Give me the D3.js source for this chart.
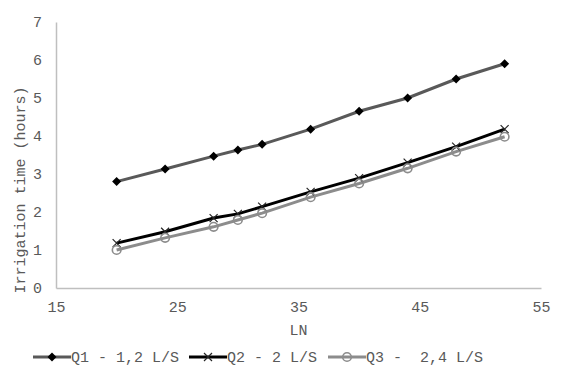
<!DOCTYPE html>
<html>
<head>
<meta charset="utf-8">
<script src="https://cdn.jsdelivr.net/npm/d3@7"></script>
<style>
  body { margin: 0; background: #fff; }
  text { font-family: "Liberation Mono", "Courier New", monospace; fill: #595959; }
</style>
</head>
<body>
<div class="chart"></div>
<script>
var svgWidth = 567;
var svgHeight = 378;

var margin = { top: 22, right: 26, bottom: 90, left: 56 };
var width = svgWidth - margin.left - margin.right;
var height = svgHeight - margin.top - margin.bottom;

// data
var lnValues = [20, 24, 28, 30, 32, 36, 40, 44, 48, 52];
var q1Hours = [2.8, 3.13, 3.47, 3.63, 3.78, 4.18, 4.65, 5.0, 5.5, 5.9];
var q2Hours = [1.18, 1.48, 1.84, 1.95, 2.14, 2.53, 2.89, 3.3, 3.72, 4.18];
var q3Hours = [1.0, 1.32, 1.61, 1.79, 1.97, 2.39, 2.75, 3.15, 3.59, 3.98];
var seriesNames = ["Q1 - 1,2 L/S", "Q2 - 2 L/S", "Q3 -  2,4 L/S"];
var xTicks = [15, 25, 35, 45, 55];
var yTicks = [0, 1, 2, 3, 4, 5, 6, 7];

var series = [
  { name: seriesNames[0], values: q1Hours, color: "#595959", marker: "diamond" },
  { name: seriesNames[1], values: q2Hours, color: "#000000", marker: "cross" },
  { name: seriesNames[2], values: q3Hours, color: "#8c8c8c", marker: "circle" }
];

var svg = d3.select(".chart")
  .append("svg")
  .attr("width", svgWidth)
  .attr("height", svgHeight);

var chartGroup = svg.append("g")
  .attr("transform", `translate(${margin.left}, ${margin.top})`);

var xScale = d3.scaleLinear().domain([15, 55]).range([0, width]);
var yScale = d3.scaleLinear().domain([0, 7]).range([height, 0]);

// axes, no tick marks
var xAxis = chartGroup.append("g")
  .attr("transform", `translate(0, ${height})`)
  .call(d3.axisBottom(xScale).tickValues(xTicks).tickFormat(d3.format("d")).tickSize(0).tickPadding(13));
var yAxis = chartGroup.append("g")
  .call(d3.axisLeft(yScale).tickValues(yTicks).tickFormat(d3.format("d")).tickSize(0).tickPadding(14));

[xAxis, yAxis].forEach(function(ax) {
  ax.attr("font-family", null).attr("font-size", null);
  ax.select(".domain").attr("stroke", "#bfbfbf").attr("stroke-width", 1.5);
  ax.selectAll("text")
    .style("font-size", "15px")
    .attr("fill", "#595959");
});

// lines
var line = d3.line()
  .x((d, i) => xScale(lnValues[i]))
  .y(d => yScale(d));

series.forEach(function(s) {
  chartGroup.append("path")
    .datum(s.values)
    .attr("fill", "none")
    .attr("stroke", s.color)
    .attr("stroke-width", 3)
    .attr("d", line);
});

function drawMarker(g, type, x, y) {
  if (type === "diamond") {
    g.append("path")
      .attr("d", "M0,-4.5L4.5,0L0,4.5L-4.5,0Z")
      .attr("transform", `translate(${x}, ${y})`)
      .attr("fill", "#000");
  } else if (type === "cross") {
    g.append("path")
      .attr("d", "M-4,-4L4,4M-4,4L4,-4")
      .attr("transform", `translate(${x}, ${y})`)
      .attr("stroke", "#262626")
      .attr("stroke-width", 1.2)
      .attr("fill", "none");
  } else {
    g.append("circle")
      .attr("cx", x)
      .attr("cy", y)
      .attr("r", 4.3)
      .attr("fill", "none")
      .attr("stroke", "#8c8c8c")
      .attr("stroke-width", 1.6);
  }
}

series.forEach(function(s) {
  var mg = chartGroup.append("g");
  s.values.forEach(function(v, i) {
    drawMarker(mg, s.marker, xScale(lnValues[i]), yScale(v));
  });
});

// axis titles
chartGroup.append("text")
  .attr("x", width / 2)
  .attr("y", height + 47)
  .attr("text-anchor", "middle")
  .style("font-size", "15px")
  .text("LN");

chartGroup.append("text")
  .attr("transform", "rotate(-90)")
  .attr("x", -height / 2 - 35)
  .attr("y", -31)
  .attr("text-anchor", "middle")
  .style("font-size", "15px")
  .text("Irrigation time (hours)");

// legend
var legendX = [33, 189, 328];
var legend = svg.append("g").attr("transform", "translate(0, 357)");
series.forEach(function(s, i) {
  var lg = legend.append("g").attr("transform", `translate(${legendX[i]}, 0)`);
  lg.append("line")
    .attr("x1", 0).attr("x2", 38)
    .attr("y1", 0).attr("y2", 0)
    .attr("stroke", s.color)
    .attr("stroke-width", 3);
  drawMarker(lg, s.marker, 19, 0);
  lg.append("text")
    .attr("x", 38)
    .attr("y", 5)
    .attr("xml:space", "preserve")
    .style("white-space", "pre")
    .style("font-size", "15px")
    .text(s.name);
});
</script>
</body>
</html>
